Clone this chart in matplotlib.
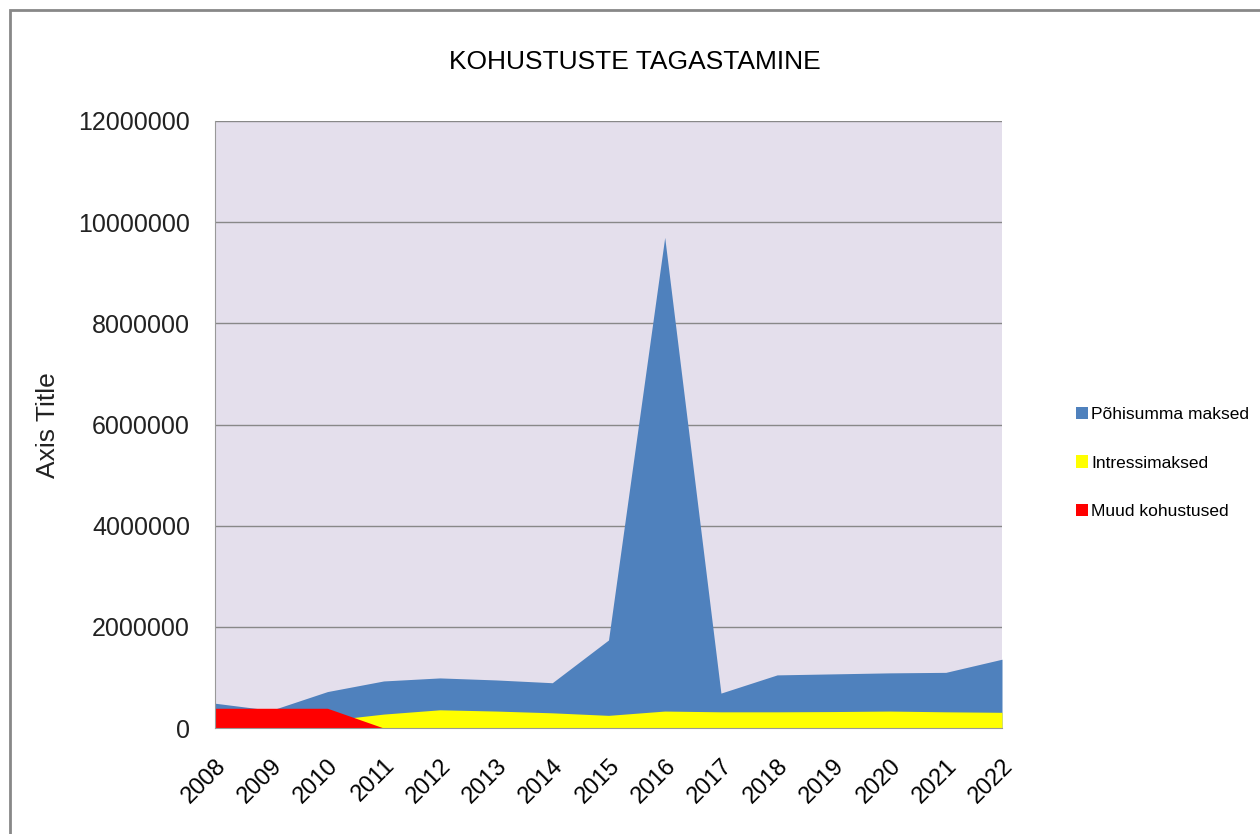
import matplotlib.pyplot as plt
import numpy as np
from matplotlib.patches import Rectangle, Patch

#------------------------------------------------
years = ['2008', '2009', '2010', '2011', '2012', '2013', '2014', '2015',
         '2016', '2017', '2018', '2019', '2020', '2021', '2022']
pohisumma = [490000, 350000, 720000, 930000, 990000, 950000, 895000, 1740000,
             9700000, 690000, 1050000, 1070000, 1090000, 1100000, 1360000]
intressid = [0, 0, 150000, 275000, 360000, 335000, 300000, 250000,
             335000, 320000, 320000, 325000, 335000, 320000, 310000]
muud = [390000, 390000, 390000, 0, 0, 0, 0, 0,
        0, 0, 0, 0, 0, 0, 0]
series_names = ['Põhisumma maksed', 'Intressimaksed', 'Muud kohustused']
series_colors = ['#4F81BD', '#FFFF00', '#FF0000']
yticks = [0, 2000000, 4000000, 6000000, 8000000, 10000000, 12000000]
#------------------------------------------------
plt.rcParams['font.family'] = ['Liberation Sans', 'DejaVu Sans']

fig = plt.figure(figsize=(12.6, 8.34), dpi=100)
ax = fig.add_axes([215/1260, 1-728/834, 787/1260, 607/834])
ax.set_facecolor('#E4DFEC')

x = np.arange(len(years))
for vals, col in zip([pohisumma, intressid, muud], series_colors):
    ax.fill_between(x, 0, vals, color=col, linewidth=0, zorder=2)

ax.set_xlim(0, len(years)-1)
ax.set_ylim(0, 12000000)
ax.set_yticks(yticks)
ax.set_yticklabels([str(v) for v in yticks], fontsize=18, color='#222222')
ax.set_xticks(x)
ax.set_xticklabels(years, rotation=45, ha='right', rotation_mode='anchor', fontsize=17)
ax.tick_params(axis='y', length=0, pad=18)
ax.tick_params(axis='x', length=0, pad=19)
ax.grid(axis='y', color='#888888', linewidth=1, zorder=1)
ax.set_axisbelow(True)
for s in ['top', 'right']:
    ax.spines[s].set_visible(False)
for s in ['left', 'bottom']:
    ax.spines[s].set_color('#999999')
    ax.spines[s].set_zorder(3)

ax.set_ylabel('Axis Title', fontsize=19, color='#222222')
ax.yaxis.set_label_coords(60/1260, 1-425/834, transform=fig.transFigure)

fig.text(635/1260, 1-62/834, 'KOHUSTUSTE TAGASTAMINE', ha='center', va='center',
         fontsize=19)

handles = [Patch(facecolor=c, edgecolor='none') for c in series_colors]
fig.legend(handles, series_names, loc='center left', bbox_to_anchor=(1060/1260, 1-463/834),
           frameon=False, handlelength=0.7, handleheight=0.7,
           handletextpad=0.2, labelspacing=1.9,
           prop={'size': 12.5})

# chart frame
fig.patches.append(Rectangle((10/1260, -0.1), 1.2, 1.1 - 10/834,
                             transform=fig.transFigure, fill=False,
                             edgecolor='#888888', linewidth=2))

fig.savefig('out.png', dpi=100)
